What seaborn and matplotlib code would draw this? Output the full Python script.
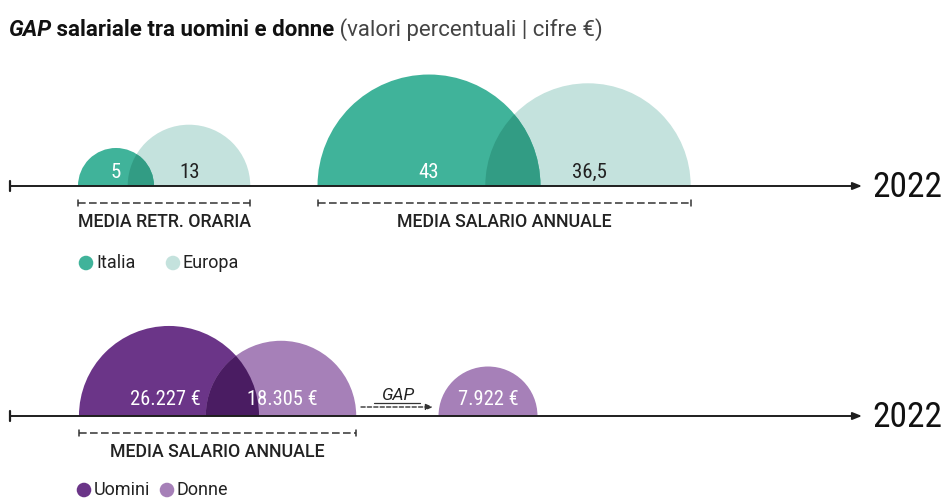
import matplotlib
matplotlib.use("Agg")
import matplotlib.pyplot as plt
from matplotlib import font_manager as fm
from matplotlib.font_manager import FontProperties
from matplotlib.patches import Wedge
import seaborn as sns
import pandas as pd

# ---- data -------------------------------------------------------------
pct_categories = ["MEDIA RETR. ORARIA", "MEDIA SALARIO ANNUALE"]
italia_pct = [5, 43]
europa_pct = [13, 36.5]
pct_series = ["Italia", "Europa"]

salary_groups = ["Uomini", "Donne"]
salary_eur = [26227, 18305]
gap_eur = 7922
salary_category = "MEDIA SALARIO ANNUALE"
year = "2022"

# ---- style ------------------------------------------------------------
sns.set_theme(style="white")
SANS = ["Roboto", "DejaVu Sans"]
plt.rcParams["font.family"] = SANS

TEAL, TEAL_LIGHT, TEAL_DARK = "#40b39a", "#c4e2dd", "#329c84"
PURPLE, PURPLE_LIGHT, PURPLE_DARK = "#6b3588", "#a680b8", "#4a1c62"
INK = "#1e1e1e"

WEIGHTS = {"normal": 400, "regular": 400, "book": 400, "medium": 500,
           "semibold": 600, "demibold": 600, "bold": 700}


def narrow_font():
    """Pick a condensed/narrow regular face if one is installed, else Roboto."""
    best, best_score = None, -1
    for f in fm.fontManager.ttflist:
        narrow = (str(f.stretch) in ("condensed", "semi-condensed", "extra-condensed")
                  or "Narrow" in f.name or "Condensed" in f.name)
        if not narrow or f.style != "normal":
            continue
        w = f.weight if isinstance(f.weight, int) else WEIGHTS.get(str(f.weight).lower(), 0)
        if w not in (400, 500):
            continue
        name = (f.name + " " + f.fname).lower()
        if any(k in name for k in ("bold", "black", "semibold", "medium")) and w == 400:
            continue
        score = 1 + (2 if "Roboto" in f.name else 0) + (2 if w == 400 else 0)
        if score > best_score:
            best, best_score = f, score
    if best is not None:
        return FontProperties(fname=best.fname)
    return FontProperties(family="Roboto")


NARROW_FP = narrow_font()

W, H = 944, 498
BASE_TOP, BASE_BOT = 186, 416
K_PCT = 17.0     # pixels of radius per sqrt(percentage point)
K_EUR = 0.556    # pixels of radius per sqrt(euro)
italia_x = [116, 429]
europa_x = [189, 588]
men_x, women_x, gap_x = 169, 281, 488

fig = plt.figure(figsize=(W / 100, H / 100), dpi=100)
ax = fig.add_axes([0, 0, 1, 1])
ax.set_xlim(0, W)
ax.set_ylim(H, 0)
ax.axis("off")
renderer = fig.canvas.get_renderer()


def sized(size):
    fp = NARROW_FP.copy()
    fp.set_size(size)
    return fp


def fit_size(text, target_w, max_pt):
    """Font size at which `text` in the narrow face spans target_w pixels."""
    t = ax.text(0, 0, text, fontproperties=sized(10))
    w = t.get_window_extent(renderer).width
    t.remove()
    return min(max_pt, 10 * target_w / w)


def half_disc(cx, base, r, color, z):
    w = Wedge((cx, base), r, 180, 360, facecolor=color, edgecolor="none", zorder=z)
    ax.add_patch(w)
    return w


def overlap(cx, base, r, clip_patch, color, z):
    w = half_disc(cx, base, r, color, z)
    w.set_clip_path(clip_patch)


def fmt_pct(v):
    return f"{v:g}".replace(".", ",")


def fmt_eur(v):
    return f"{v:,}".replace(",", ".") + " €"


YEAR_SIZE = fit_size(year, 69, 36)
PCT_SIZE = fit_size(fmt_pct(europa_pct[1]), 35, 17)
EUR_SIZE = fit_size(fmt_eur(salary_eur[0]), 70, 18)


def baseline(y):
    ax.annotate("", xy=(862, y), xytext=(10, y),
                arrowprops=dict(arrowstyle="-|>,head_length=0.45,head_width=0.18",
                                color=INK, lw=1.4, shrinkA=0, shrinkB=0), zorder=5)
    ax.plot([10, 10], [y - 5, y + 5], color=INK, lw=1.6, zorder=5)
    ax.text(872, y + 1, year, fontproperties=sized(YEAR_SIZE), color="#111111",
            ha="left", va="center")


def bracket(x0, x1, y, label):
    ax.plot([x0, x1], [y, y], color="#333333", lw=1.1, ls=(0, (5, 2.2)), zorder=4)
    for x in (x0, x1):
        ax.plot([x, x], [y - 3, y + 3], color="#333333", lw=1.1, zorder=4)
    ax.text((x0 + x1) / 2, y + 19, label, fontsize=12.8, color="#222222",
            ha="center", va="center", fontweight="medium")


# ---- top panel: percentage gaps ----------------------------------------
for i, cat in enumerate(pct_categories):
    ri = K_PCT * italia_pct[i] ** 0.5
    re = K_PCT * europa_pct[i] ** 0.5
    e_patch = half_disc(europa_x[i], BASE_TOP, re, TEAL_LIGHT, 2)
    half_disc(italia_x[i], BASE_TOP, ri, TEAL, 2)
    overlap(italia_x[i], BASE_TOP, ri, e_patch, TEAL_DARK, 3)
    ax.text(italia_x[i], BASE_TOP - 14, fmt_pct(italia_pct[i]), fontproperties=sized(PCT_SIZE),
            color="white", ha="center", va="center", zorder=6)
    ax.text(europa_x[i] + 1, BASE_TOP - 14, fmt_pct(europa_pct[i]), fontproperties=sized(PCT_SIZE),
            color="#222222", ha="center", va="center", zorder=6)
    bracket(italia_x[i] - ri, europa_x[i] + re, 203, cat)

baseline(BASE_TOP)

# ---- bottom panel: annual salary ---------------------------------------
rm = K_EUR * salary_eur[0] ** 0.5
rw = K_EUR * salary_eur[1] ** 0.5
rg = K_EUR * gap_eur ** 0.5
half_disc(men_x, BASE_BOT, rm, PURPLE, 2)
w_patch = half_disc(women_x, BASE_BOT, rw, PURPLE_LIGHT, 2)
overlap(men_x, BASE_BOT, rm, w_patch, PURPLE_DARK, 3)
half_disc(gap_x, BASE_BOT, rg, PURPLE_LIGHT, 2)

for x, v in [(men_x - 4, salary_eur[0]), (women_x + 1, salary_eur[1]), (gap_x, gap_eur)]:
    ax.text(x, BASE_BOT - 17, fmt_eur(v), fontproperties=sized(EUR_SIZE),
            color="white", ha="center", va="center", zorder=6)

# GAP arrow between the pair and the difference
ax.annotate("", xy=(433, 407), xytext=(361, 407),
            arrowprops=dict(arrowstyle="-|>,head_length=0.35,head_width=0.15",
                            color="#333333", lw=1.0, ls=(0, (3, 1.6)),
                            shrinkA=0, shrinkB=0))
ax.text(398, 395, "GAP", fontsize=12.5, style="italic", color="#222222",
        ha="center", va="center")
ax.plot([374, 420], [403, 403], color="#333333", lw=0.9)

bracket(men_x - rm, women_x + rw, 433, salary_category)
baseline(BASE_BOT)

# ---- legends (seaborn scatter for the dots) ----------------------------
legend_df = pd.DataFrame({
    "x": [86, 173, 84, 167],
    "y": [263, 263, 490, 490],
    "name": pct_series + salary_groups,
})
palette = {"Italia": TEAL, "Europa": TEAL_LIGHT, "Uomini": PURPLE, "Donne": PURPLE_LIGHT}
sns.scatterplot(data=legend_df, x="x", y="y", hue="name", palette=palette,
                s=110, edgecolor="none", legend=False, ax=ax, zorder=5)
for _, row in legend_df.iterrows():
    ax.text(row.x + 10, row.y, row["name"], fontsize=13, color="#222222",
            ha="left", va="center")
ax.set_xlim(0, W)
ax.set_ylim(H, 0)
ax.axis("off")

# ---- title built from three styled pieces ------------------------------
pieces = [("GAP", dict(fontweight="bold", style="italic", color="#111111")),
          (" salariale tra uomini e donne", dict(fontweight="bold", color="#111111")),
          (" (valori percentuali | cifre €)", dict(color="#444444"))]
x = 8
for txt, kw in pieces:
    t = ax.text(x, 30, txt, fontsize=16, ha="left", va="center", **kw)
    x = t.get_window_extent(renderer).x1

fig.savefig("out.png", dpi=100)
